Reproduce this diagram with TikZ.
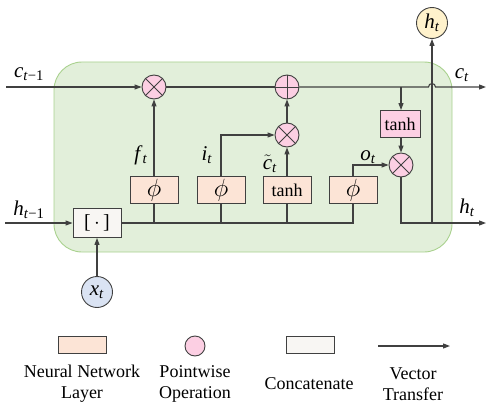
\documentclass[tikz,border=0pt]{standalone}
\usepackage{fontspec}
\setmainfont{Liberation Serif}
\usetikzlibrary{arrows.meta}
\definecolor{cellgreen}{HTML}{E2EFDA}
\definecolor{cellborder}{HTML}{A9D18E}
\definecolor{oppink}{HTML}{FCCFE3}
\definecolor{nnpeach}{HTML}{FCE4D6}
\definecolor{tanhpink}{HTML}{FCCFE3}
\definecolor{concatfill}{HTML}{F8F6F3}
\definecolor{xblue}{HTML}{DAE3F3}
\definecolor{hyellow}{HTML}{FFF2CC}
\definecolor{linegray}{HTML}{404040}
\newcommand{\phisym}{{\fontsize{23}{25}\selectfont$\phi$}}
\begin{document}
\begin{tikzpicture}[x=1pt,y=-1pt,
  every node/.style={inner sep=0pt},
  wire/.style={draw=linegray,line width=1.1pt},
  arr/.style={wire,-{Triangle[length=7pt,width=5pt]}},
  opcirc/.style={circle,draw=linegray,line width=0.9pt,fill=oppink,minimum size=24pt},
  nnbox/.style={rectangle,draw=linegray,line width=0.9pt,fill=nnpeach,minimum width=48pt,minimum height=27pt,font=\fontsize{18}{20}\selectfont},
  pinkbox/.style={nnbox,fill=tanhpink,minimum width=40pt},
  catbox/.style={rectangle,draw=linegray,line width=0.9pt,fill=concatfill,minimum width=48pt,minimum height=29pt,font=\fontsize{20}{22}\selectfont},
  iocirc/.style={circle,draw=linegray,line width=0.9pt,minimum size=31pt,font=\fontsize{21}{23}\selectfont},
  lbl/.style={font=\fontsize{21}{23}\selectfont},
  legtext/.style={font=\fontsize{18}{21}\selectfont,align=center}
]
\useasboundingbox (0,0) rectangle (498,412);
% cell background
\path[fill=cellgreen,draw=cellborder,line width=0.9pt,rounded corners=28pt] (54,62) rectangle (452,252);

% nodes
\node[opcirc] (mult1) at (154,87) {};
\node[opcirc] (add1) at (287,87) {};
\node[opcirc] (mult2) at (287,135) {};
\node[opcirc] (mult3) at (401,165) {};
\node[pinkbox] (tanhp) at (400,124) {tanh};
\node[nnbox] (nn1) at (154,190) {\phisym};
\node[nnbox] (nn2) at (221,190) {\phisym};
\node[nnbox] (nn3) at (287,190) {tanh};
\node[nnbox] (nn4) at (353,190) {\phisym};
\node[catbox] (concat) at (97,223) {[\,$\cdot$\,]};
\node[iocirc,fill=xblue] (xt) at (97,292) {\textit{x}\textsubscript{\textit{t}}};
\node[iocirc,fill=hyellow] (ht) at (432,23) {\textit{h}\textsubscript{\textit{t}}};

\coordinate (cin) at (6,87);
\coordinate (cout) at (486,87);
\coordinate (hin) at (5,223);
\coordinate (hout) at (486,223);
\coordinate (hop) at (432,87);
\coordinate (hjoin) at (432,223);

% operator glyphs
\foreach \n in {mult1,mult2,mult3}{
  \draw[linegray,line width=0.9pt] (\n.north east) -- (\n.south west) (\n.north west) -- (\n.south east);
}
\draw[linegray,line width=0.9pt] (add1.north) -- (add1.south) (add1.west) -- (add1.east);

% cell state line
\draw[arr] (cin) -- (mult1.west);
\draw[wire] (mult1.east) -- (add1.west);
\draw[arr] (add1.east) -- ([xshift=-3.5pt]hop) arc[start angle=180,end angle=0,radius=3.5pt] -- (cout);
\draw[arr] (mult3.north |- add1) -- (mult3.north |- tanhp.north);
\draw[arr] (mult3.north |- tanhp.south) -- (mult3.north);

% gates
\draw[arr] (nn1.north) -- (mult1.south);
\draw[arr] (nn2.north) |- (mult2.west);
\draw[arr] (nn3.north) -- (mult2.south);
\draw[arr] (mult2.north) -- (add1.south);
\draw[arr] (nn4.north) |- (mult3.west);

% hidden line
\draw[arr] (hin) -- (concat.west);
\draw[arr] (xt.north) -- (concat.south);
\draw[wire] (concat.east) -- (nn4.south |- concat.east) -- (nn4.south);
\draw[wire] (nn1.south) -- (nn1.south |- concat.east);
\draw[wire] (nn2.south) -- (nn2.south |- concat.east);
\draw[wire] (nn3.south) -- (nn3.south |- concat.east);
\draw[arr] (mult3.south) |- (hout);
\draw[arr] (hjoin) -- (ht.south);

% labels
\node[lbl] (lc0) at (29,74) {\textit{c}\textsubscript{\textit{t}−1}};
\node[lbl] (lh0) at (29,210) {\textit{h}\textsubscript{\textit{t}−1}};
\node[lbl] (lf) at (141,155) {\textit{f}\textsubscript{\textit{t}}};
\node[lbl] (li) at (207,155) {\textit{i}\textsubscript{\textit{t}}};
\node[lbl] (lct) at (270,164) {$\tilde{\mbox{\textit{c}}}$\textsubscript{\textit{t}}};
\node[lbl] (lo) at (368,157) {\textit{o}\textsubscript{\textit{t}}};
\node[lbl] (lc1) at (462,75) {\textit{c}\textsubscript{\textit{t}}};
\node[lbl] (lh1) at (467,208) {\textit{h}\textsubscript{\textit{t}}};

% legend
\node[nnbox,minimum height=17pt] (leg1) at (82,345) {};
\node[opcirc,minimum size=20pt] (leg2) at (195,346) {};
\node[catbox,minimum height=17pt] (leg3) at (310,345) {};
\coordinate (leg4a) at (378,346);
\coordinate (leg4b) at (450,346);
\draw[arr] (leg4a) -- (leg4b);
\node[legtext] (t1) at (82,384) {Neural Network\\Layer};
\node[legtext] (t2) at (195,384) {Pointwise\\Operation};
\node[legtext] (t3) at (309,384) {Concatenate};
\node[legtext] (t4) at (413,384) {Vector\\Transfer};
\end{tikzpicture}
\end{document}
